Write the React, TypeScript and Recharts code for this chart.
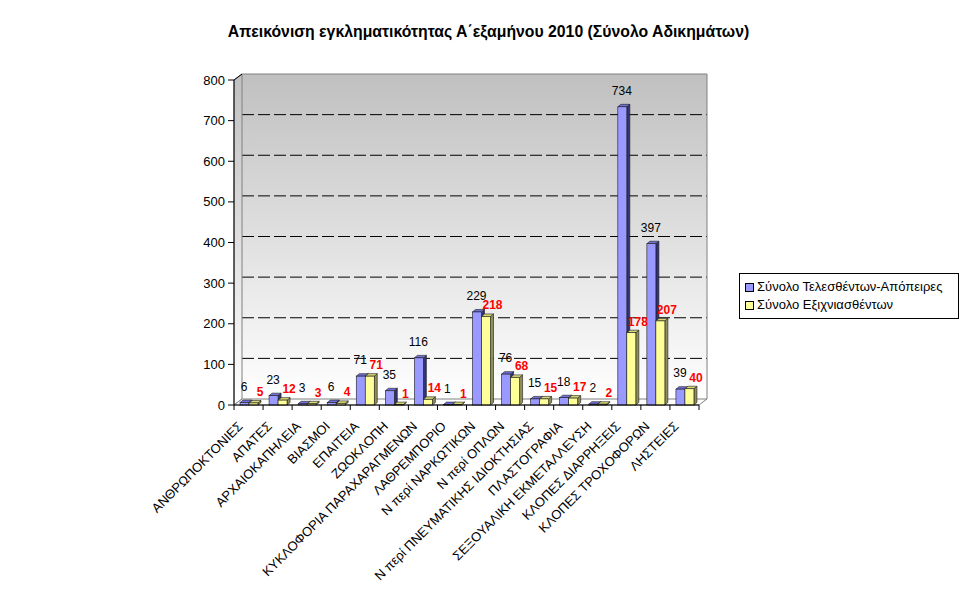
import { BarChart, Bar, XAxis, YAxis, CartesianGrid, Legend, LabelList } from "recharts";

const categories = [
  "ΑΝΘΡΩΠΟΚΤΟΝΙΕΣ",
  "ΑΠΑΤΕΣ",
  "ΑΡΧΑΙΟΚΑΠΗΛΕΙΑ",
  "ΒΙΑΣΜΟΙ",
  "ΕΠΑΙΤΕΙΑ",
  "ΖΩΟΚΛΟΠΗ",
  "ΚΥΚΛΟΦΟΡΙΑ ΠΑΡΑΧΑΡΑΓΜΕΝΩΝ",
  "ΛΑΘΡΕΜΠΟΡΙΟ",
  "Ν περί ΝΑΡΚΩΤΙΚΩΝ",
  "Ν περί ΟΠΛΩΝ",
  "Ν περί ΠΝΕΥΜΑΤΙΚΗΣ ΙΔΙΟΚΤΗΣΙΑΣ",
  "ΠΛΑΣΤΟΓΡΑΦΙΑ",
  "ΣΕΞΟΥΑΛΙΚΗ ΕΚΜΕΤΑΛΛΕΥΣΗ",
  "ΚΛΟΠΕΣ ΔΙΑΡΡΗΞΕΙΣ",
  "ΚΛΟΠΕΣ ΤΡΟΧΟΦΟΡΩΝ",
  "ΛΗΣΤΕΙΕΣ",
];
const committed = [6, 23, 3, 6, 71, 35, 116, 1, 229, 76, 15, 18, 2, 734, 397, 39];
const solved = [5, 12, 3, 4, 71, 1, 14, 1, 218, 68, 15, 17, 2, 178, 207, 40];
const yTicks = [0, 100, 200, 300, 400, 500, 600, 700, 800];
const seriesNames = ["Σύνολο Τελεσθέντων-Απόπειρες", "Σύνολο Εξιχνιασθέντων"];

const data = categories.map((name, i) => ({ name, committed: committed[i], solved: solved[i] }));

// plot layout (front face of the 3d box)
const PL = 234;
const PT = 80;
const PR = 699;
const PB = 405;
const DX = 8; // wall depth
const DY = 6;
const BAND = (PR - PL) / categories.length;
const FONT = "Arial, 'Liberation Sans', sans-serif";
const FS = 13;
const LABEL_FS = 12;

const Bar3D = (props: any, top: string, side: string) => {
  const { x, y, width: w, height: h, fill } = props;
  const dx = 3;
  const dy = 2.5;
  return (
    <g stroke="#1a1a1a" strokeWidth={0.6}>
      <polygon
        points={`${x + w},${y} ${x + w + dx},${y - dy} ${x + w + dx},${y + h - dy} ${x + w},${y + h}`}
        fill={side}
      />
      <polygon points={`${x},${y} ${x + dx},${y - dy} ${x + w + dx},${y - dy} ${x + w},${y}`} fill={top} />
      <rect x={x} y={y} width={w} height={Math.max(h, 0.5)} fill={fill} />
    </g>
  );
};

const gridLine = (props: any) => {
  const { x1, x2, y1 } = props;
  const yb = y1 - DY;
  const isFloor = Math.abs(y1 - PB) < 1;
  const isTop = Math.abs(y1 - PT) < 1;
  return (
    <g key={`h-${y1}`}>
      {isTop && (
        <g>
          <polygon
            points={`${PL},${PB} ${PL},${PT} ${x1},${PT - DY} ${x1},${PB - DY}`}
            fill="url(#wallGrad)"
            stroke="#808080"
          />
          <polygon
            points={`${PL},${PB} ${x1},${PB - DY} ${x2},${PB - DY} ${PR},${PB}`}
            fill="#ffffff"
            stroke="#808080"
          />
          <line x1={x2} y1={PT - DY} x2={x2} y2={PB - DY} stroke="#808080" />
          <line x1={x1} y1={PT - DY} x2={x2} y2={PT - DY} stroke="#808080" />
        </g>
      )}
      {!isTop && !isFloor && (
        <line x1={x1} y1={yb} x2={x2} y2={yb} stroke="#000" strokeDasharray="12 4" />
      )}
      <line x1={PL} y1={y1} x2={x1} y2={yb} stroke="#000" />
    </g>
  );
};

const XTick = (props: any) => {
  const { x, y, payload, index } = props;
  const left = x - BAND / 2;
  return (
    <g>
      <line x1={left} y1={y} x2={left} y2={y + 5} stroke="#000" />
      {index === categories.length - 1 && (
        <line x1={left + BAND} y1={y} x2={left + BAND} y2={y + 5} stroke="#000" />
      )}
      <text
        x={x - 5}
        y={y + 22}
        transform={`rotate(-45 ${x - 5} ${y + 22})`}
        textAnchor="end"
        fontSize={FS}
        fontFamily={FONT}
        fill="#000"
      >
        {payload.value}
      </text>
    </g>
  );
};

const committedLabel = (props: any) => {
  const { x, y, value } = props;
  return (
    <text x={x + 4} y={y - 12} textAnchor="middle" fontSize={LABEL_FS} fontFamily={FONT} fill="#000">
      {value}
    </text>
  );
};

const solvedLabel = (props: any) => {
  const { x, y, width, value } = props;
  return (
    <text
      x={x + width + 2}
      y={y - 7}
      textAnchor="middle"
      fontSize={LABEL_FS}
      fontWeight="bold"
      fontFamily={FONT}
      fill="#ff0000"
    >
      {value}
    </text>
  );
};

const LegendBox = (props: any) => {
  const items = [...(props.payload || [])].sort(
    (a: any, b: any) => seriesNames.indexOf(a.value) - seriesNames.indexOf(b.value)
  );
  return (
    <div
      style={{
        border: "1px solid #000",
        background: "#fff",
        padding: "4px 0 4px 5px",
        fontFamily: FONT,
        fontSize: FS,
        lineHeight: "18px",
      }}
    >
      {items.map((e: any) => (
        <div key={e.value} style={{ display: "flex", alignItems: "center" }}>
          <span
            style={{
              display: "inline-block",
              width: 7,
              height: 7,
              background: e.color,
              border: "1px solid #000",
              marginRight: 3,
            }}
          />
          {e.value}
        </div>
      ))}
    </div>
  );
};

export default function App() {
  return (
    <div style={{ position: "absolute", left: 0, top: 0, width: 977, height: 600, background: "#fff" }}>
      <div
        style={{
          position: "absolute",
          top: 23,
          left: 0,
          width: 977,
          textAlign: "center",
          fontFamily: FONT,
          fontSize: 15.8,
          fontWeight: "bold",
          color: "#000",
        }}
      >
        Απεικόνιση εγκληματικότητας Α΄εξαμήνου 2010 (Σύνολο Αδικημάτων)
      </div>
      <BarChart
        width={977}
        height={600}
        data={data}
        margin={{ top: PT, right: 977 - PR, bottom: 0, left: PL - 40 }}
        barCategoryGap={6}
        barGap={0}
      >
        <defs>
          <linearGradient id="wallGrad" x1="0" y1="0" x2="0" y2="1">
            <stop offset="0%" stopColor="#c0c0c0" />
            <stop offset="100%" stopColor="#ffffff" />
          </linearGradient>
        </defs>
        <CartesianGrid
          x={PL + DX}
          y={PT - DY}
          width={PR - PL}
          height={PB - PT}
          fill="url(#wallGrad)"
          vertical={false}
          horizontal={gridLine}
        />
        <XAxis
          dataKey="name"
          height={600 - PB}
          interval={0}
          axisLine={{ stroke: "#000" }}
          tickLine={false}
          tickSize={0}
          tickMargin={0}
          tick={<XTick />}
        />
        <YAxis
          width={40}
          domain={[0, 800]}
          ticks={yTicks}
          interval={0}
          axisLine={{ stroke: "#000" }}
          tickLine={{ stroke: "#000" }}
          tickSize={6}
          tickMargin={3}
          tick={{ fill: "#000", fontSize: FS, fontFamily: FONT }}
        />
        <Legend
          layout="vertical"
          align="center"
          verticalAlign="middle"
          content={<LegendBox />}
          wrapperStyle={{ left: 739, top: 273, width: 220 }}
        />
        <Bar
          dataKey="committed"
          name={seriesNames[0]}
          fill="#9999ff"
          isAnimationActive={false}
          shape={(p: any) => Bar3D(p, "#7070d8", "#333377")}
        >
          <LabelList dataKey="committed" content={committedLabel} />
        </Bar>
        <Bar
          dataKey="solved"
          name={seriesNames[1]}
          fill="#ffff99"
          isAnimationActive={false}
          shape={(p: any) => Bar3D(p, "#d8d878", "#8f8f5c")}
        >
          <LabelList dataKey="solved" content={solvedLabel} />
        </Bar>
      </BarChart>
    </div>
  );
}
